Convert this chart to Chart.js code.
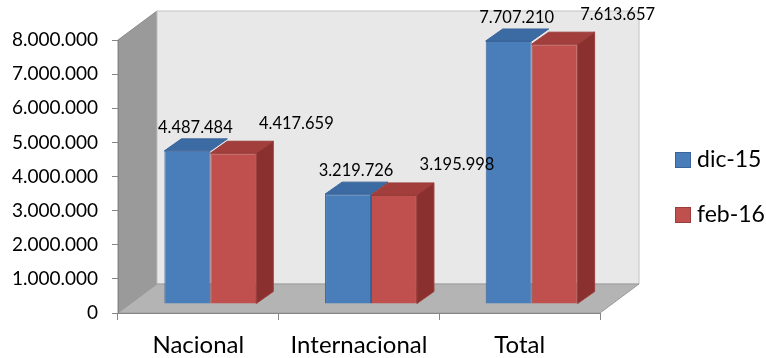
<!DOCTYPE html>
<html>
<head>
<meta charset="utf-8">
<script src="https://cdn.jsdelivr.net/npm/chart.js@4/dist/chart.umd.min.js"></script>
<style>
  html, body { margin: 0; padding: 0; background: #fff; }
  #wrap { width: 766px; height: 358px; }
</style>
</head>
<body>
<div id="wrap"><canvas id="chart" width="766" height="358"></canvas></div>
<script>
  const categories = ["Nacional", "Internacional", "Total"];
  const seriesNames = ["dic-15", "feb-16"];
  const dic15 = [4487484, 3219726, 7707210];
  const feb16 = [4417659, 3195998, 7613657];
  const yMin = 0, yMax = 8000000, yStep = 1000000;

  const FONT = "Lato, 'Open Sans', sans-serif";

  // 3D look: wall depth and where the bars sit inside it
  const WALL = { dx: 39, dy: -29 };
  const BAR_SHIFT = { dx: 12, dy: -9 };
  const BAR_DEPTH = { dx: 17, dy: -12 };

  const palette = [
    { front: "#4a7ebb", border: "#3a659a", top: "#3c6aa3", side: "#2f5789" },
    { front: "#c0504d", border: "#9b3d3b", top: "#a23e3b", side: "#8a302e" }
  ];

  const fmt = n => String(Math.round(n)).replace(/\B(?=(\d{3})+(?!\d))/g, ".");

  function poly(ctx, pts, fill, stroke) {
    ctx.beginPath();
    ctx.moveTo(pts[0][0], pts[0][1]);
    for (let i = 1; i < pts.length; i++) ctx.lineTo(pts[i][0], pts[i][1]);
    ctx.closePath();
    ctx.fillStyle = fill;
    ctx.fill();
    if (stroke) {
      ctx.strokeStyle = stroke;
      ctx.lineWidth = 1;
      ctx.stroke();
    }
  }

  // side wall, back wall and floor behind the axes
  const walls = {
    id: "walls",
    beforeDraw(chart) {
      const { ctx, chartArea: a } = chart;
      const { dx, dy } = WALL;
      ctx.save();
      poly(ctx, [[a.left, a.top], [a.left + dx, a.top + dy], [a.left + dx, a.bottom + dy], [a.left, a.bottom]], "#9a9a9a", "#8a8a8a");
      poly(ctx, [[a.left + dx, a.top + dy], [a.right + dx, a.top + dy], [a.right + dx, a.bottom + dy], [a.left + dx, a.bottom + dy]], "#e8e8e8", "#c2c2c2");
      poly(ctx, [[a.left, a.bottom], [a.left + dx, a.bottom + dy], [a.right + dx, a.bottom + dy], [a.right, a.bottom]], "#b4b4b4", "#9c9c9c");
      ctx.restore();
    }
  };

  // bars are pushed into the box; top and side faces drawn before the fronts
  const bars3d = {
    id: "bars3d",
    beforeDatasetsDraw(chart) {
      const ctx = chart.ctx;
      ctx.save();
      ctx.translate(BAR_SHIFT.dx, BAR_SHIFT.dy);
      const last = chart.data.datasets.length - 1;
      const { dx, dy } = BAR_DEPTH;
      chart.data.datasets.forEach((ds, i) => {
        const c = palette[i];
        chart.getDatasetMeta(i).data.forEach(bar => {
          const l = bar.x - bar.width / 2, r = bar.x + bar.width / 2;
          poly(ctx, [[l, bar.y], [l + dx, bar.y + dy], [r + dx, bar.y + dy], [r, bar.y]], c.top, c.border);
          if (i === last) {
            poly(ctx, [[r, bar.y], [r + dx, bar.y + dy], [r + dx, bar.base + dy], [r, bar.base]], c.side, c.border);
          }
        });
      });
    },
    afterDatasetsDraw(chart) {
      chart.ctx.restore();
    }
  };

  // value labels above each bar
  const labelOffsets = [{ x: 8, y: -23 }, { x: 63, y: -30 }];
  const valueLabels = {
    id: "valueLabels",
    afterDatasetsDraw(chart) {
      const ctx = chart.ctx;
      ctx.save();
      ctx.font = "16.5px " + FONT;
      ctx.fillStyle = "#000";
      ctx.textAlign = "center";
      ctx.textBaseline = "middle";
      chart.data.datasets.forEach((ds, i) => {
        chart.getDatasetMeta(i).data.forEach((bar, j) => {
          const o = labelOffsets[i];
          ctx.fillText(fmt(ds.data[j]), bar.x + BAR_SHIFT.dx + o.x, bar.y + BAR_SHIFT.dy + o.y);
        });
      });
      ctx.restore();
    }
  };

  // legend to the right of the box
  const sideLegend = {
    id: "sideLegend",
    afterDraw(chart) {
      const ctx = chart.ctx;
      ctx.save();
      ctx.font = "23px " + FONT;
      ctx.textBaseline = "middle";
      chart.data.datasets.forEach((ds, i) => {
        const y = 160 + i * 55;
        ctx.fillStyle = ds.backgroundColor;
        ctx.fillRect(675.5, y - 7.5, 15, 15);
        ctx.strokeStyle = ds.borderColor;
        ctx.lineWidth = 1;
        ctx.strokeRect(675.5, y - 7.5, 15, 15);
        ctx.fillStyle = "#000";
        ctx.fillText(ds.label, 697, y);
      });
      ctx.restore();
    }
  };

  new Chart(document.getElementById("chart"), {
    type: "bar",
    data: {
      labels: categories,
      datasets: [
        { label: seriesNames[0], data: dic15, backgroundColor: palette[0].front, borderColor: palette[0].border, borderWidth: 1 },
        { label: seriesNames[1], data: feb16, backgroundColor: palette[1].front, borderColor: palette[1].border, borderWidth: 1 }
      ]
    },
    options: {
      responsive: false,
      animation: false,
      events: [],
      layout: { padding: { left: 0, top: 40, right: 166, bottom: 0 } },
      datasets: { bar: { barPercentage: 1, categoryPercentage: 0.572, clip: false } },
      plugins: { legend: { display: false }, tooltip: { enabled: false } },
      scales: {
        x: {
          grid: { offset: true, drawOnChartArea: false, tickLength: 7, color: "#868686" },
          border: { color: "#868686" },
          ticks: { color: "#000", font: { family: FONT, size: 24 }, padding: 11 },
          afterFit: s => { s.height = 45; }
        },
        y: {
          min: yMin,
          max: yMax,
          grid: { drawOnChartArea: false, tickLength: 6, color: "#868686" },
          border: { color: "#868686" },
          ticks: { stepSize: yStep, color: "#000", font: { family: FONT, size: 19 }, padding: 14, callback: v => fmt(v) },
          afterFit: s => { s.width = 118; }
        }
      }
    },
    plugins: [walls, bars3d, valueLabels, sideLegend]
  });
</script>
</body>
</html>
